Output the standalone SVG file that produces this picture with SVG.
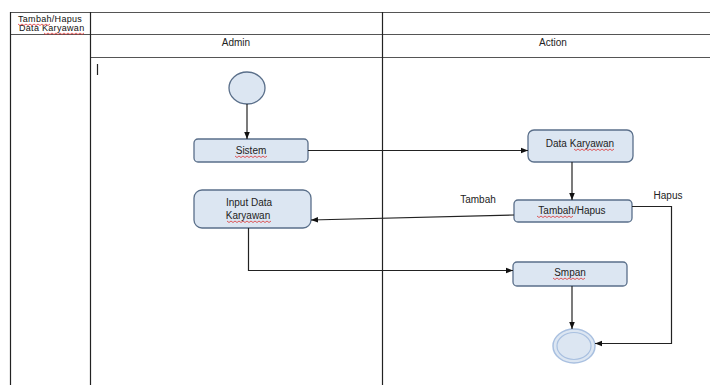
<svg xmlns="http://www.w3.org/2000/svg" width="710" height="385" viewBox="0 0 710 385">
<defs>
<style>
.grid{stroke:#555;stroke-width:1;fill:none}
.vgrid{stroke:#222;stroke-width:1.2;fill:none}
.box{fill:#dce6f2;stroke:#5a6f8a;stroke-width:1.3}
.t{font-family:"Liberation Sans",Arial,sans-serif;font-size:10px;fill:#222}
.th{font-family:"Liberation Sans",Arial,sans-serif;font-size:9px;letter-spacing:0.3px;fill:#111}
.c{stroke:#222;stroke-width:1.2;fill:none}
.w{stroke:#d33;stroke-width:0.8;fill:none}
</style>
<marker id="ah" viewBox="0 0 10 10" refX="10" refY="5" markerWidth="7" markerHeight="7" orient="auto" markerUnits="userSpaceOnUse">
<path d="M0,1 L10,5 L0,9 z" fill="#111"/>
</marker>
</defs>
<rect width="710" height="385" fill="#fff"/>
<g id="table">
<line class="grid" x1="10" y1="12.5" x2="710" y2="12.5"/>
<line class="grid" x1="10" y1="34.5" x2="710" y2="34.5"/>
<line class="grid" x1="90" y1="57.5" x2="710" y2="57.5"/>
<line class="vgrid" x1="10.5" y1="12" x2="10.5" y2="385"/>
<line class="vgrid" x1="90.5" y1="12" x2="90.5" y2="385"/>
<line class="vgrid" x1="382.5" y1="12" x2="382.5" y2="385"/>
<line class="c" x1="97.5" y1="64" x2="97.5" y2="75" stroke-width="1"/>
<text class="th" x="18" y="22">Tambah/Hapus</text>
<text class="th" x="19" y="31">Data Karyawan</text>
<text class="t" x="236" y="46" text-anchor="middle">Admin</text>
<text class="t" x="553" y="46" text-anchor="middle">Action</text>
</g>
<g id="start"><ellipse class="box" cx="247" cy="88" rx="18" ry="16"/></g>
<g id="sistem"><rect class="box" x="194" y="139" width="114" height="23" rx="4"/><text class="t" x="251" y="154" text-anchor="middle">Sistem</text></g>
<g id="datakaryawan"><rect class="box" x="528" y="130" width="105" height="32" rx="6"/><text class="t" x="580" y="147" text-anchor="middle">Data Karyawan</text></g>
<g id="tambahhapus"><rect class="box" x="514" y="200" width="118" height="22" rx="4"/><text class="t" x="572" y="214" text-anchor="middle">Tambah/Hapus</text></g>
<g id="input"><rect class="box" x="194" y="190" width="117" height="38" rx="8"/><text class="t" x="249" y="206" text-anchor="middle">Input Data</text><text class="t" x="248" y="219" text-anchor="middle">Karyawan</text></g>
<g id="smpan"><rect class="box" x="513" y="262" width="114" height="24" rx="4"/><text class="t" x="570" y="276" text-anchor="middle">Smpan</text></g>
<g id="end"><ellipse cx="574" cy="346" rx="21" ry="17" fill="#dce6f2" stroke="#a9c0e0" stroke-width="1.5"/><ellipse cx="574" cy="346" rx="17" ry="13.5" fill="#dce6f2" stroke="#a9c0e0" stroke-width="1.2"/></g>
<g id="connectors">
<line class="c" x1="247" y1="104" x2="247" y2="139" marker-end="url(#ah)"/>
<line class="c" x1="308" y1="150.5" x2="528" y2="150.5" marker-end="url(#ah)"/>
<line class="c" x1="572" y1="162" x2="572" y2="200" marker-end="url(#ah)"/>
<line class="c" x1="514" y1="215" x2="311" y2="220" marker-end="url(#ah)"/>
<polyline class="c" points="632,206.5 671.5,206.5 671.5,343.5 595,343.5" marker-end="url(#ah)"/>
<polyline class="c" points="248.5,228 248.5,270.5 513,270.5" marker-end="url(#ah)"/>
<line class="c" x1="572" y1="286" x2="572" y2="329" marker-end="url(#ah)"/>
<text class="t" x="478" y="203" text-anchor="middle">Tambah</text>
<text class="t" x="668" y="199" text-anchor="middle">Hapus</text>
</g>
<g id="spellcheck">
<path class="w" d="M18,24 l2,1.5 l2,-1.5 l2,1.5 l2,-1.5 l2,1.5 l2,-1.5 l2,1.5 l2,-1.5 l2,1.5 l2,-1.5 l2,1.5 l2,-1.5 l2,1.5 l2,-1.5 l2,1.5 l2,-1.5"/>
<path class="w" d="M44,33 l2,1.5 l2,-1.5 l2,1.5 l2,-1.5 l2,1.5 l2,-1.5 l2,1.5 l2,-1.5 l2,1.5 l2,-1.5 l2,1.5 l2,-1.5 l2,1.5 l2,-1.5 l2,1.5 l2,-1.5 l2,1.5 l2,-1.5 l2,1.5 l2,-1.5"/>
<path class="w" d="M235,156 l2,1.5 l2,-1.5 l2,1.5 l2,-1.5 l2,1.5 l2,-1.5 l2,1.5 l2,-1.5 l2,1.5 l2,-1.5 l2,1.5 l2,-1.5 l2,1.5 l2,-1.5 l2,1.5 l2,-1.5"/>
<path class="w" d="M574,149 l2,1.5 l2,-1.5 l2,1.5 l2,-1.5 l2,1.5 l2,-1.5 l2,1.5 l2,-1.5 l2,1.5 l2,-1.5 l2,1.5 l2,-1.5 l2,1.5 l2,-1.5 l2,1.5 l2,-1.5 l2,1.5 l2,-1.5 l2,1.5 l2,-1.5"/>
<path class="w" d="M537,216 l2,1.5 l2,-1.5 l2,1.5 l2,-1.5 l2,1.5 l2,-1.5 l2,1.5 l2,-1.5 l2,1.5 l2,-1.5 l2,1.5 l2,-1.5 l2,1.5 l2,-1.5 l2,1.5 l2,-1.5 l2,1.5 l2,-1.5"/>
<path class="w" d="M227,221 l2,1.5 l2,-1.5 l2,1.5 l2,-1.5 l2,1.5 l2,-1.5 l2,1.5 l2,-1.5 l2,1.5 l2,-1.5 l2,1.5 l2,-1.5 l2,1.5 l2,-1.5 l2,1.5 l2,-1.5 l2,1.5 l2,-1.5 l2,1.5 l2,-1.5 l2,1.5 l2,-1.5"/>
<path class="w" d="M553,278 l2,1.5 l2,-1.5 l2,1.5 l2,-1.5 l2,1.5 l2,-1.5 l2,1.5 l2,-1.5 l2,1.5 l2,-1.5 l2,1.5 l2,-1.5 l2,1.5 l2,-1.5 l2,1.5 l2,-1.5"/>
</g>
</svg>
